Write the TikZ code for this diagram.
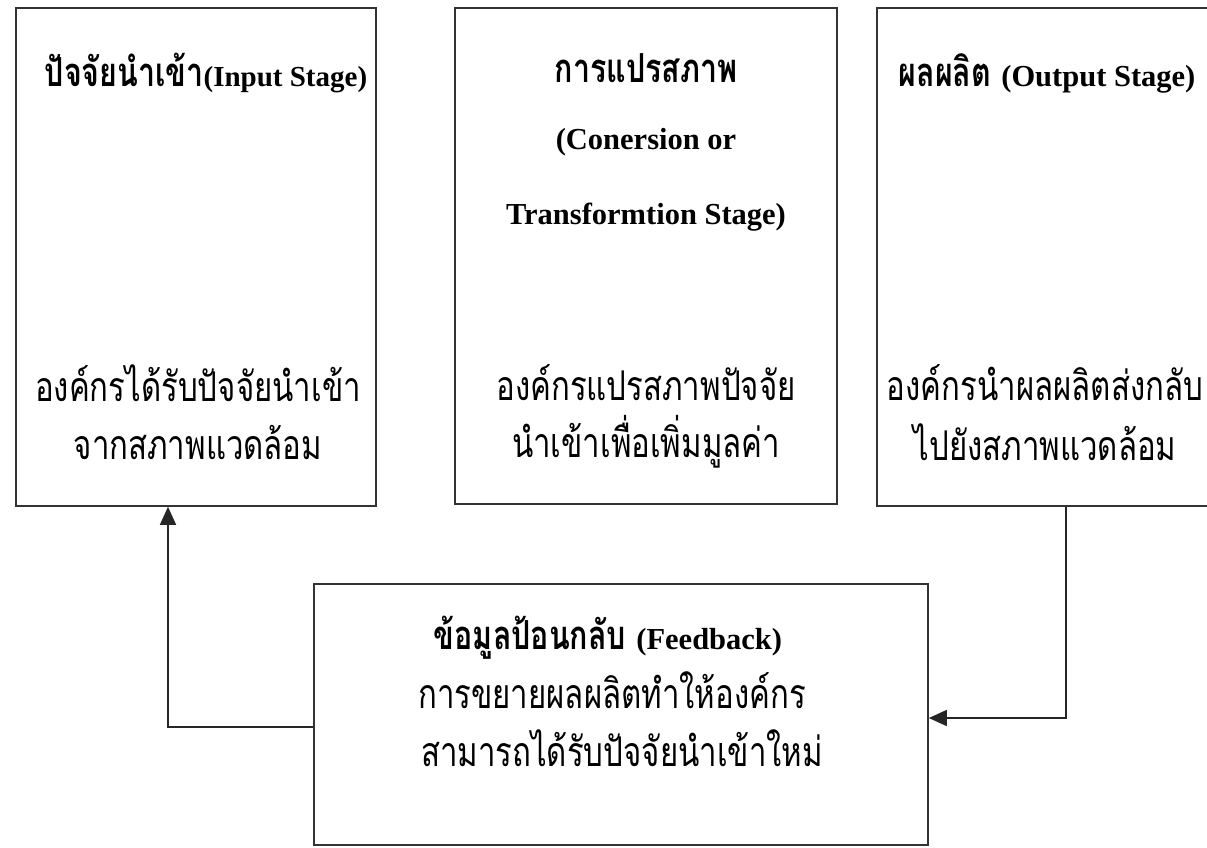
\documentclass[tikz,border=0pt]{standalone}
\usepackage{fontspec}
\setmainfont{Liberation Serif}
\newfontfamily\thai[Script=Thai,FakeStretch=0.76]{Loma}
\usetikzlibrary{arrows.meta}
\tikzset{
  stagebox/.style={draw=black!80,line width=1.6pt,fill=white,inner sep=0pt},
  txt/.style={inner sep=0pt,anchor=center},
  link/.style={draw=black!85,line width=1.4pt},
  tip/.style={-{Triangle[length=18pt,width=16pt]}}
}
\newcommand{\thbody}{\thai\fontsize{41}{44}\selectfont}
\newcommand{\thtitle}{\thai\bfseries\fontsize{40}{44}\selectfont}
\newcommand{\latin}{\rmfamily\bfseries\fontsize{30.5}{33}\selectfont}
\newcommand{\latinsm}{\rmfamily\bfseries\fontsize{29}{33}\selectfont}
\begin{document}
\begin{tikzpicture}[x=1pt,y=-1pt]
\useasboundingbox (0,0) rectangle (1207,847);
\fill[white] (0,0) rectangle (1207,847);
% boxes
\node[stagebox,minimum width=360pt,minimum height=498pt] (in) at (196,257) {};
\node[stagebox,minimum width=382pt,minimum height=496pt] (cv) at (646,256) {};
\node[stagebox,minimum width=343pt,minimum height=498pt] (out) at (1048.5,257) {};
\node[stagebox,minimum width=614pt,minimum height=261pt] (fb) at (621,714.5) {};
% texts box 1
\node[txt] (in1) at (206,73) {\thtitle ปัจจัยนำเข้า{\latinsm(Input Stage)}};
\node[txt] (in2) at (198,383) {\thbody องค์กรได้รับปัจจัยนำเข้า};
\node[txt] (in3) at (198,442) {\thbody จากสภาพแวดล้อม};
% texts box 2
\node[txt] (cv1) at (646,68) {\thtitle การแปรสภาพ};
\node[txt] (cv2) at (646,142) {\latin (Conersion or};
\node[txt] (cv3) at (646,217) {\latin Transformtion Stage)};
\node[txt] (cv4) at (646,383) {\thbody องค์กรแปรสภาพปัจจัย};
\node[txt] (cv5) at (646,442) {\thbody นำเข้าเพื่อเพิ่มมูลค่า};
% texts box 3
\node[txt] (out1) at (1047,73) {\thtitle ผลผลิต {\latin (Output Stage)}};
\node[txt] (out2) at (1045,383) {\thbody องค์กรนำผลผลิตส่งกลับ};
\node[txt] (out3) at (1045,442) {\thbody ไปยังสภาพแวดล้อม};
% feedback texts
\node[txt] (fb1) at (608,638) {\thtitle ข้อมูลป้อนกลับ {\latin (Feedback)}};
\node[txt] (fb2) at (612,690) {\thbody การขยายผลผลิตทำให้องค์กร};
\node[txt] (fb3) at (622,748) {\thbody สามารถได้รับปัจจัยนำเข้าใหม่};
% connectors
\coordinate (c1) at (1066,718);
\coordinate (c2) at (168,727);
\draw[link,tip] (out.south -| c1) -- (c1) -- (fb.east |- c1);
\draw[link,tip] (fb.west |- c2) -- (c2) -- (in.south -| c2);
\end{tikzpicture}
\end{document}
